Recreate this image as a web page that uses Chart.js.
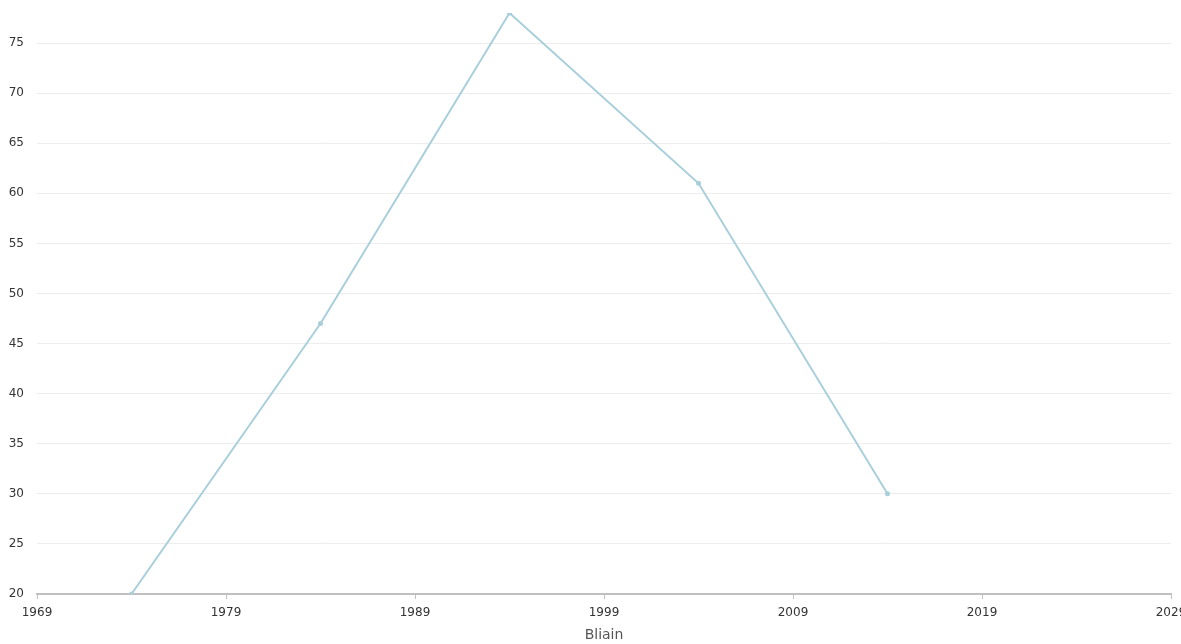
<!DOCTYPE html>
<html>
<head>
<meta charset="utf-8">
<script src="https://cdn.jsdelivr.net/npm/chart.js@4"></script>
<style>
  html, body { margin: 0; padding: 0; background: #fff; overflow: hidden; }
  #wrap { width: 1181px; height: 644px; }
</style>
</head>
<body>
<div id="wrap"><canvas id="chart"></canvas></div>
<script>
// --- Data ---
const years = [1974, 1984, 1994, 2004, 2014];
const values = [20, 47, 78, 61, 30];
const xTicks = [1969, 1979, 1989, 1999, 2009, 2019, 2029];
const yTicks = [20, 25, 30, 35, 40, 45, 50, 55, 60, 65, 70, 75];

const lineColor = '#a9cfdc';
const labelFont = { family: 'DejaVu Sans', size: 12 };

new Chart(document.getElementById('chart'), {
  type: 'line',
  data: {
    datasets: [{
      label: 'Bliain',
      data: years.map((y, i) => ({ x: y, y: values[i] })),
      borderColor: lineColor,
      backgroundColor: lineColor,
      borderWidth: 2,
      pointRadius: 2.5,
      pointBorderWidth: 0,
      tension: 0
    }]
  },
  options: {
    responsive: true,
    maintainAspectRatio: false,
    animation: false,
    layout: { padding: { top: 13, right: 10, left: 0, bottom: 0 } },
    scales: {
      x: {
        type: 'linear',
        min: xTicks[0],
        max: xTicks[xTicks.length - 1],
        afterBuildTicks: (axis) => { axis.ticks = xTicks.map(v => ({ value: v })); },
        afterFit: (axis) => {
          axis.height = 50;
          // let the last label run off the edge like the original
          axis.paddingLeft = 0;
          axis.paddingRight = 0;
        },
        grid: { display: true, drawOnChartArea: false, drawTicks: true, tickLength: 5, tickColor: '#c0c0c0', lineWidth: 1 },
        border: { display: true, color: '#c0c0c0', width: 2 },
        ticks: { color: '#333', font: labelFont, padding: 7, maxRotation: 0, callback: v => String(v) },
        title: { display: true, text: 'Bliain', color: '#555', font: { family: 'DejaVu Sans', size: 14 }, padding: { top: 4, bottom: 0 } }
      },
      y: {
        min: 20,
        max: 78,
        afterBuildTicks: (axis) => { axis.ticks = yTicks.map(v => ({ value: v })); },
        afterFit: (axis) => {
          axis.width = 37;
          axis.paddingTop = 0;
          axis.paddingBottom = 0;
        },
        grid: { color: '#ededed', lineWidth: 1, drawTicks: false },
        border: { display: false },
        ticks: { color: '#333', font: labelFont, padding: 13 }
      }
    },
    plugins: {
      legend: { display: false },
      tooltip: { enabled: false }
    }
  }
});
</script>
</body>
</html>
